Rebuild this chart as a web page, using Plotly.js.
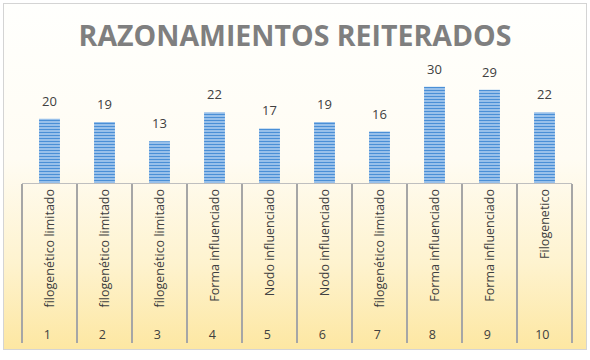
<!DOCTYPE html>
<html>
<head>
<meta charset="utf-8">
<script src="https://cdn.plot.ly/plotly-3.0.1.min.js"></script>
<style>
html,body{margin:0;padding:0;background:#ffffff;}
#bg{position:absolute;left:3px;top:3px;width:582px;height:345px;border:1px solid #d4d4d4;
background:linear-gradient(to bottom,#fffffd 0%,#fffcf3 45%,#fef3cf 75%,#fde7a2 100%);}
#chart{position:absolute;left:0;top:0;width:590px;height:360px;}
</style>
</head>
<body>
<div id="bg"></div>
<div id="chart"></div>
<script>
var numbers = ["1","2","3","4","5","6","7","8","9","10"];
var labels = ["filogenético limitado","filogenético limitado","filogenético limitado","Forma influenciado","Nodo influenciado","Nodo influenciado","filogenético limitado","Forma influenciado","Forma influenciado","Filogenetico"];
var values = [20,19,13,22,17,19,16,30,29,22];

var pad = "\u00a0\u00a0";
var trace = {
  type: "bar",
  x: [numbers, labels.map(function(s){ return pad + s; })],
  y: values,
  marker: {
    color: "#5b9bd5",
    pattern: {shape: "-", fgcolor: "#4a8fd6", bgcolor: "#a8cbef", size: 3, solidity: 0.45}
  },
  hoverinfo: "none"
};

var annotations = values.map(function(v, i){
  return {x: i, y: v, xref: "x", yref: "y", text: String(v), showarrow: false,
    yanchor: "bottom", yshift: 7, font: {family: "Open Sans, sans-serif", size: 13, color: "#404040"}};
});

var layout = {
  width: 590, height: 360,
  paper_bgcolor: "rgba(0,0,0,0)",
  plot_bgcolor: "rgba(0,0,0,0)",
  margin: {l: 22, r: 18, t: 77, b: 177},
  title: {text: "<b>RAZONAMIENTOS REITERADOS</b>", x: 0.5, xanchor: "center", y: 0.9, yanchor: "middle",
    font: {family: "Open Sans, sans-serif", size: 28.5, color: "#7f7f7f"}},
  bargap: 0.62,
  showlegend: false,
  xaxis: {
    type: "multicategory",
    tickangle: -90,
    showline: true, linecolor: "#bfbfbf", linewidth: 1,
    showdividers: true, dividercolor: "#a6a6a6", dividerwidth: 2,
    ticks: "",
    tickfont: {family: "Open Sans, sans-serif", size: 12.5, color: "#404040"}
  },
  yaxis: {range: [0, 33], visible: false, showgrid: false, zeroline: false},
  annotations: annotations
};

Plotly.newPlot("chart", [trace], layout, {displayModeBar: false, staticPlot: true});
</script>
</body>
</html>
